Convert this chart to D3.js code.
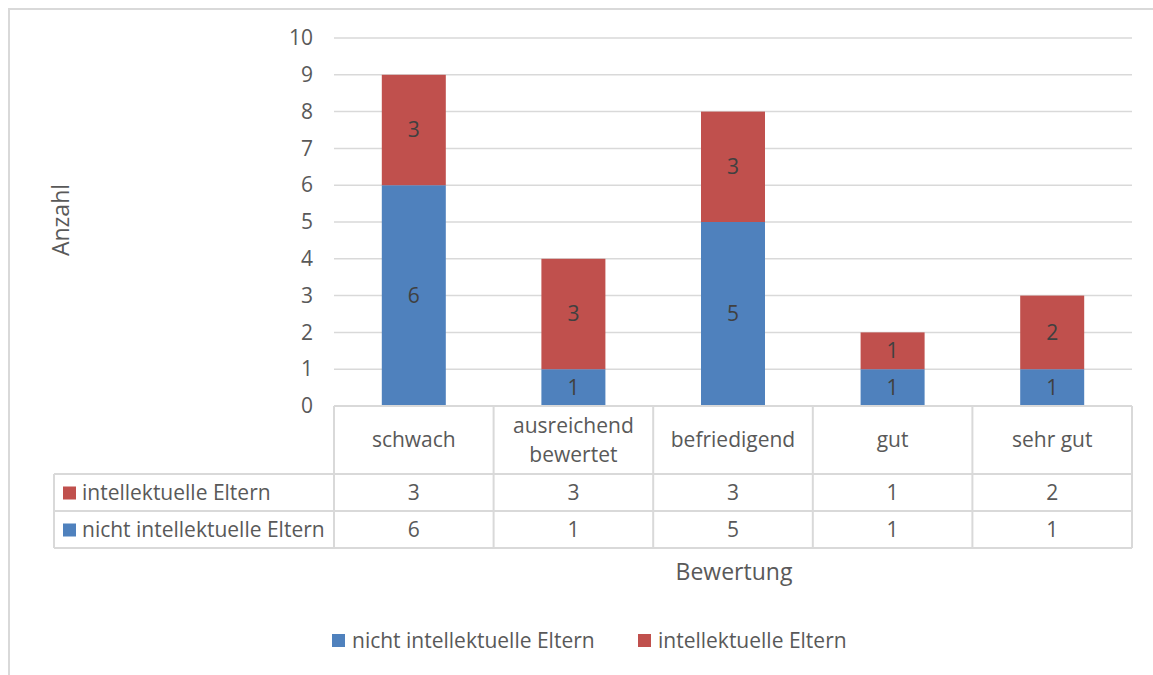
<!DOCTYPE html>
<html><head><meta charset="utf-8">
<script src="https://cdn.jsdelivr.net/npm/d3@7"></script>
<style>body{margin:0;background:#fff;} svg{display:block;} text{font-family:"Open Sans","Lato",sans-serif;}</style>
</head><body>
<svg id="c" width="1153" height="675"></svg>
<script>
const categories = ["schwach", "ausreichend bewertet", "befriedigend", "gut", "sehr gut"];
const categoryLines = [["schwach"], ["ausreichend", "bewertet"], ["befriedigend"], ["gut"], ["sehr gut"]];
const nichtIntellektuell = [6, 1, 5, 1, 1];
const intellektuell = [3, 3, 3, 1, 2];
const seriesNames = ["nicht intellektuelle Eltern", "intellektuelle Eltern"];
const yTicks = [0,1,2,3,4,5,6,7,8,9,10];
const colors = ["#4f81bd", "#c0504d"];
const textColor = "#595959";
const gridColor = "#d9d9d9";

(function(){
const svg = d3.select("#c");
const fs = 21;
// outer frame
svg.append("path").attr("d","M9,675 L9,9 L1153,9").attr("fill","none").attr("stroke",gridColor).attr("stroke-width",2);

const pLeft = 334, pRight = 1132, pTop = 38, pBottom = 406;
const x = d3.scaleBand().domain(categories).range([pLeft, pRight]).paddingInner(0).paddingOuter(0);
const y = d3.scaleLinear().domain([0, 10]).range([pBottom, pTop]);

// gridlines
svg.append("g").selectAll("line").data(yTicks).join("line")
  .attr("x1", pLeft).attr("x2", pRight)
  .attr("y1", d => y(d)).attr("y2", d => y(d))
  .attr("stroke", gridColor).attr("stroke-width", 1.5);

// y axis labels
const yAxis = d3.axisLeft(y).tickValues(yTicks).tickSize(0).tickPadding(0);
const gy = svg.append("g").attr("transform", `translate(${313},0)`).call(yAxis);
gy.select(".domain").remove();
gy.selectAll("text").attr("fill", textColor).style("font-size", fs + "px").style("font-family", '"Open Sans",sans-serif');

// stacked bars
const table = categories.map((c, i) => ({cat: c, a: nichtIntellektuell[i], b: intellektuell[i]}));
const stack = d3.stack().keys(["a", "b"])(table);
const barW = 64;
stack.forEach((s, si) => {
  const g = svg.append("g");
  g.selectAll("rect").data(s).join("rect")
    .attr("x", d => x(d.data.cat) + x.bandwidth()/2 - barW/2)
    .attr("width", barW)
    .attr("y", d => y(d[1]))
    .attr("height", d => y(d[0]) - y(d[1]))
    .attr("fill", colors[si]);
  g.selectAll("text").data(s).join("text")
    .attr("x", d => x(d.data.cat) + x.bandwidth()/2)
    .attr("y", d => (y(d[0]) + y(d[1]))/2)
    .attr("dy", "0.35em").attr("text-anchor", "middle")
    .attr("fill", "#404040").style("font-size", fs + "px")
    .text(d => d[1] - d[0]);
});

// data table
const rowTop = 406, hdrBottom = 474, r1 = 511, r2 = 548, keyLeft = 54;
const tl = svg.append("g").attr("stroke", gridColor).attr("stroke-width", 2).attr("fill", "none");
const bounds = categories.map(c => x(c)).concat([pRight]);
bounds.forEach(bx => tl.append("line").attr("x1", bx).attr("x2", bx).attr("y1", rowTop).attr("y2", r2));
tl.append("line").attr("x1", keyLeft).attr("x2", keyLeft).attr("y1", hdrBottom).attr("y2", r2);
tl.append("line").attr("x1", pLeft).attr("x2", pRight).attr("y1", rowTop).attr("y2", rowTop);
[hdrBottom, r1, r2].forEach(yy => tl.append("line").attr("x1", keyLeft).attr("x2", pRight).attr("y1", yy).attr("y2", yy));

// header labels
categories.forEach((c, i) => {
  const lines = categoryLines[i];
  const cx = x(c) + x.bandwidth()/2;
  const cy = (rowTop + hdrBottom)/2;
  lines.forEach((ln, li) => {
    svg.append("text").attr("x", cx).attr("y", cy + (li - (lines.length-1)/2) * 29)
      .attr("dy", "0.35em").attr("text-anchor", "middle").attr("fill", textColor)
      .style("font-size", fs + "px").text(ln);
  });
});
// rows
const rows = [{name: seriesNames[1], vals: intellektuell, col: colors[1], y0: hdrBottom, y1: r1},
              {name: seriesNames[0], vals: nichtIntellektuell, col: colors[0], y0: r1, y1: r2}];
rows.forEach(r => {
  const cy = (r.y0 + r.y1)/2;
  svg.append("rect").attr("x", 63).attr("y", cy - 6).attr("width", 13).attr("height", 13).attr("fill", r.col);
  svg.append("text").attr("x", 82).attr("y", cy).attr("dy", "0.35em").attr("fill", textColor)
    .style("font-size", fs + "px").text(r.name);
  r.vals.forEach((v, i) => {
    svg.append("text").attr("x", x(categories[i]) + x.bandwidth()/2).attr("y", cy).attr("dy", "0.35em")
      .attr("text-anchor", "middle").attr("fill", textColor).style("font-size", fs + "px").text(v);
  });
});

// axis titles
svg.append("text").attr("transform", "translate(61,220) rotate(-90)").attr("text-anchor", "middle")
  .attr("dy", "0.35em").attr("fill", textColor).style("font-size", "23px").text("Anzahl");
svg.append("text").attr("x", 734).attr("y", 572).attr("dy", "0.35em").attr("text-anchor", "middle")
  .attr("fill", textColor).style("font-size", "23px").text("Bewertung");

// legend
const legend = [{name: seriesNames[0], col: colors[0], x: 332}, {name: seriesNames[1], col: colors[1], x: 638}];
legend.forEach(l => {
  svg.append("rect").attr("x", l.x).attr("y", 634).attr("width", 13).attr("height", 13).attr("fill", l.col);
  svg.append("text").attr("x", l.x + 20).attr("y", 641).attr("dy", "0.35em").attr("fill", textColor)
    .style("font-size", fs + "px").text(l.name);
});
})();
</script>
</body></html>
